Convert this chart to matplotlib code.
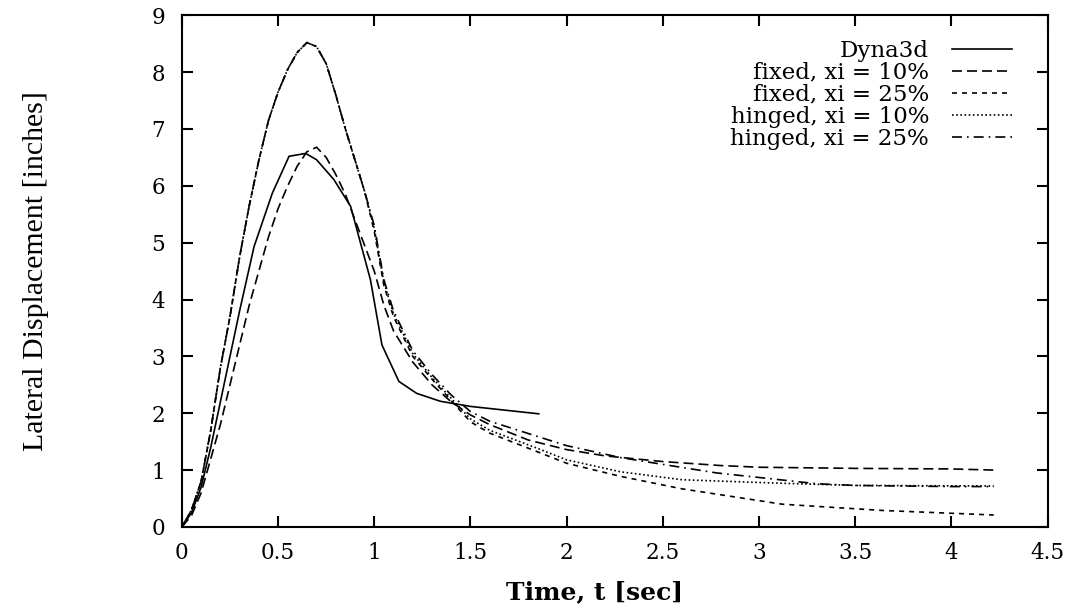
import matplotlib
matplotlib.use('Agg')
import matplotlib.pyplot as plt

# Dyna3d reference solution
t_dyna = [0, 0.05, 0.1, 0.15, 0.2, 0.25, 0.3, 0.375, 0.47, 0.557, 0.643, 0.70,
          0.79, 0.877, 0.98, 1.04, 1.128, 1.22, 1.344, 1.5, 1.855]
d_dyna = [0, 0.25, 0.7, 1.4, 2.2, 3.0, 3.8, 4.93, 5.87, 6.52, 6.57, 6.46,
          6.11, 5.64, 4.35, 3.2, 2.56, 2.35, 2.21, 2.12, 1.99]

# fixed, xi = 10%
t_f10 = [0, 0.05, 0.1, 0.15, 0.2, 0.25, 0.3, 0.35, 0.4, 0.45, 0.5, 0.55, 0.6,
         0.65, 0.7, 0.75, 0.8, 0.85, 0.9, 0.95, 1.0, 1.05, 1.1, 1.2, 1.3, 1.4,
         1.5, 1.6, 1.8, 2.0, 2.2, 2.5, 2.8, 3.0, 3.5, 4.0, 4.22]
d_f10 = [0, 0.2, 0.6, 1.2, 1.8, 2.5, 3.2, 3.9, 4.5, 5.1, 5.6, 6.0, 6.35,
         6.6, 6.68, 6.5, 6.2, 5.85, 5.4, 4.95, 4.5, 3.9, 3.45, 2.9, 2.5, 2.2,
         1.97, 1.8, 1.53, 1.36, 1.25, 1.15, 1.08, 1.05, 1.03, 1.02, 1.0]

# fixed, xi = 25%
t_f25 = [0, 0.05, 0.1, 0.15, 0.2, 0.25, 0.3, 0.35, 0.4, 0.45, 0.5, 0.55, 0.6,
         0.65, 0.7, 0.75, 0.8, 0.85, 0.9, 0.95, 1.0, 1.05, 1.1, 1.2, 1.3, 1.4,
         1.5, 1.6, 1.85, 2.0, 2.28, 2.6, 3.12, 3.64, 4.22]
d_f25 = [0, 0.3, 0.8, 1.7, 2.8, 3.7, 4.75, 5.65, 6.45, 7.15, 7.65, 8.05, 8.35,
         8.52, 8.45, 8.15, 7.6, 7.0, 6.45, 5.9, 5.2, 4.25, 3.7, 3.0, 2.6, 2.22,
         1.85, 1.65, 1.32, 1.12, 0.89, 0.67, 0.40, 0.29, 0.21]

# hinged, xi = 10%
t_h10 = [0, 0.05, 0.1, 0.15, 0.2, 0.25, 0.3, 0.35, 0.4, 0.45, 0.5, 0.55, 0.6,
         0.65, 0.7, 0.75, 0.8, 0.85, 0.9, 0.95, 1.0, 1.05, 1.1, 1.2, 1.3, 1.4,
         1.5, 1.6, 1.85, 2.0, 2.28, 2.6, 3.1, 3.5, 4.22]
d_h10 = [0, 0.3, 0.8, 1.7, 2.8, 3.7, 4.75, 5.65, 6.45, 7.15, 7.65, 8.05, 8.35,
         8.52, 8.45, 8.15, 7.6, 7.0, 6.45, 5.9, 5.25, 4.3, 3.75, 3.05, 2.63, 2.26,
         1.9, 1.7, 1.38, 1.18, 0.97, 0.83, 0.77, 0.73, 0.72]

# hinged, xi = 25%
t_h25 = [0, 0.05, 0.1, 0.15, 0.2, 0.25, 0.3, 0.35, 0.4, 0.45, 0.5, 0.55, 0.6,
         0.65, 0.7, 0.75, 0.8, 0.85, 0.9, 0.95, 1.0, 1.05, 1.1, 1.2, 1.3, 1.4,
         1.5, 1.6, 1.85, 2.0, 2.28, 2.5, 2.78, 3.0, 3.3, 3.5, 4.0, 4.22]
d_h25 = [0, 0.3, 0.8, 1.7, 2.8, 3.7, 4.75, 5.65, 6.45, 7.15, 7.65, 8.05, 8.35,
         8.52, 8.45, 8.15, 7.6, 7.0, 6.45, 5.9, 5.3, 4.35, 3.8, 3.1, 2.68, 2.32,
         2.03, 1.86, 1.59, 1.43, 1.22, 1.1, 0.95, 0.87, 0.76, 0.73, 0.71, 0.71]

plt.rcParams['font.family'] = 'DejaVu Serif'

fig = plt.figure(figsize=(10.7, 6.12), dpi=100)
ax = fig.add_axes([0.170, 0.139, 0.809, 0.836])

lw = 1.2
ax.plot(t_dyna, d_dyna, color='black', lw=lw, linestyle='-', label='Dyna3d')
ax.plot(t_f10, d_f10, color='black', lw=lw, linestyle=(0, (6, 3)), label='fixed, xi = 10%')
ax.plot(t_f25, d_f25, color='black', lw=lw, linestyle=(0, (3, 3)), label='fixed, xi = 25%')
ax.plot(t_h10, d_h10, color='black', lw=lw, linestyle=(0, (1, 1.5)), label='hinged, xi = 10%')
ax.plot(t_h25, d_h25, color='black', lw=lw, linestyle=(0, (6, 3, 1, 3)), label='hinged, xi = 25%')

ax.set_xlim(0, 4.5)
ax.set_ylim(0, 9)
ax.set_xticks([0, 0.5, 1, 1.5, 2, 2.5, 3, 3.5, 4, 4.5])
ax.set_xticklabels(['0', '0.5', '1', '1.5', '2', '2.5', '3', '3.5', '4', '4.5'])
ax.set_yticks(range(10))
ax.tick_params(direction='in', length=8, width=1.5, top=True, right=True,
               labelsize=15.5)
ax.tick_params(axis='x', pad=11)
ax.tick_params(axis='y', pad=12)
for s in ax.spines.values():
    s.set_linewidth(1.5)

# axis titles (x title sits a little left of centre in the original)
ax.set_xlabel('Time, t [sec]', fontsize=18, fontweight='bold')
ax.xaxis.set_label_coords(0.477, -0.105)
ax.set_ylabel('Lateral Displacement [inches]', fontsize=21.5,
              family='Liberation Serif', labelpad=74)

ax.legend(loc='upper right', frameon=False, markerfirst=False, fontsize=16.5,
          handlelength=2.6, labelspacing=0.0, borderaxespad=0.0,
          handletextpad=1.0, bbox_to_anchor=(0.969, 0.970))

fig.savefig('out.png', dpi=100)
